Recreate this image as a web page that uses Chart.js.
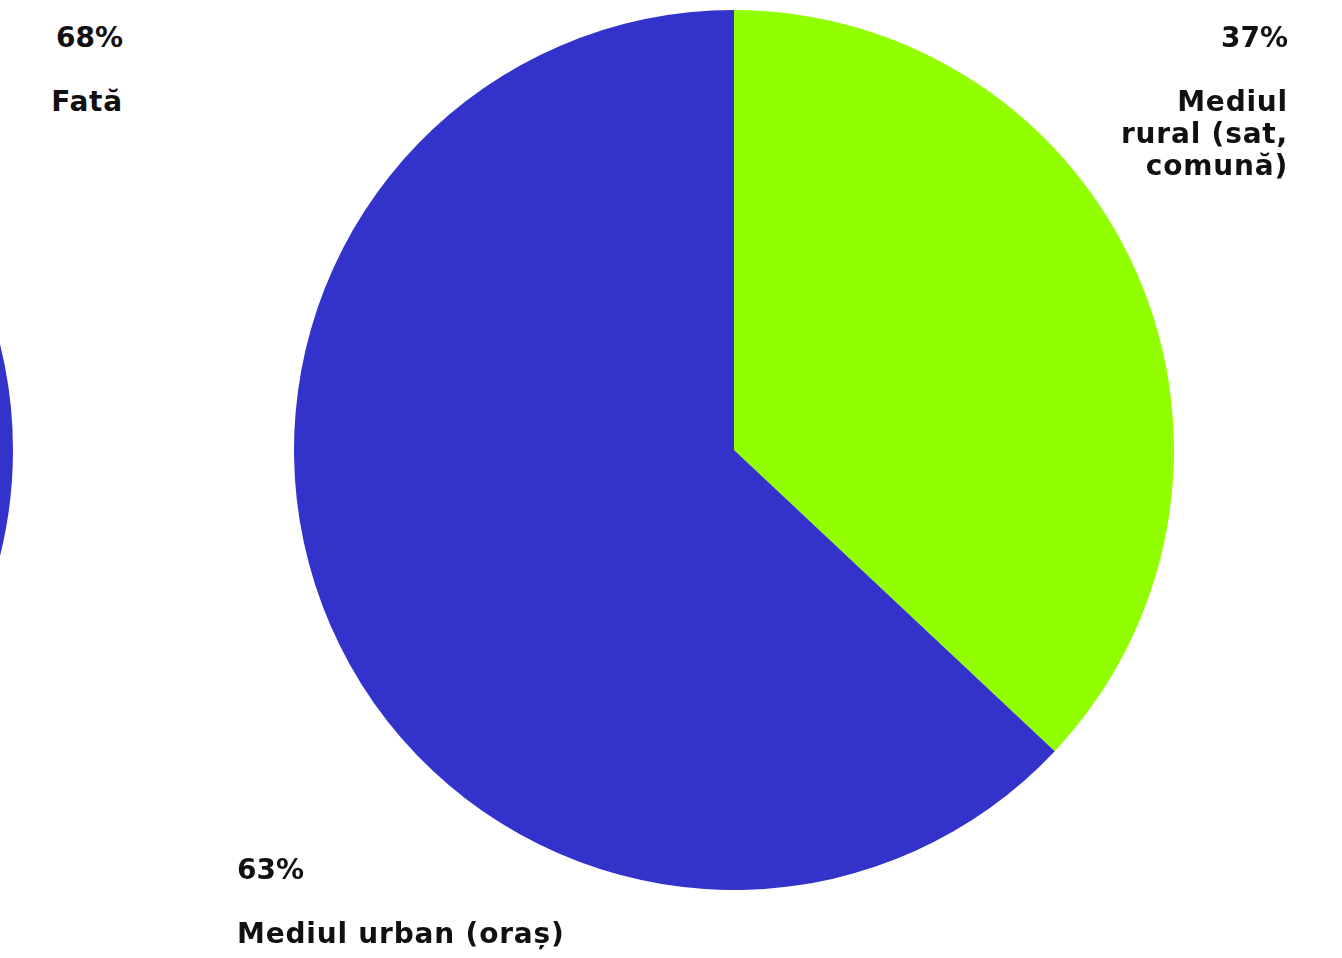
<!DOCTYPE html>
<html>
<head>
<meta charset="utf-8">
<script src="https://cdn.jsdelivr.net/npm/chart.js@4/dist/chart.umd.min.js"></script>
<style>
  html, body { margin: 0; padding: 0; background: #fff; overflow: hidden; }
  body { width: 1342px; height: 958px; position: relative; }
  .pie { position: absolute; width: 880px; height: 880px; }
  .lbl {
    position: absolute;
    font-family: "DejaVu Sans", Inter, sans-serif;
    font-weight: 700;
    font-size: 28px;
    letter-spacing: 0.8px;
    line-height: 32px;
    color: #111;
    white-space: nowrap;
  }
  .lbl .pct { display: block; margin-bottom: 32px; letter-spacing: 0; }
</style>
</head>
<body>
<div class="pie" style="left:-867px; top:10px;"><canvas id="genChart"></canvas></div>
<div class="pie" style="left:294px; top:10px;"><canvas id="mediuChart"></canvas></div>

<div class="lbl" id="lblGen0" style="right:1219px; top:22px; text-align:right;"></div>
<div class="lbl" id="lblMediu0" style="right:54px; top:22px; text-align:right;"></div>
<div class="lbl" id="lblMediu1" style="left:237px; top:854px; text-align:left;"></div>

<script>
const genLabels = ["Fată", "Băiat"];
const genValues = [68, 32];

const mediuLabels = ["Mediul rural (sat, comună)", "Mediul urban (oraș)"];
const mediuValues = [37, 63];

const blue = "#3333cc";
const green = "#91ff00";

function pieOptions() {
    return {
        responsive: true,
        maintainAspectRatio: true,
        animation: false,
        layout: { padding: 0 },
        plugins: {
            legend: { display: false },
            tooltip: { enabled: false },
        },
    };
}

new Chart(document.getElementById("genChart"), {
    type: "pie",
    data: {
        labels: genLabels,
        datasets: [{ data: genValues, backgroundColor: [blue, green], borderWidth: 0 }],
    },
    options: pieOptions(),
});

new Chart(document.getElementById("mediuChart"), {
    type: "pie",
    data: {
        labels: mediuLabels,
        datasets: [{ data: mediuValues, backgroundColor: [green, blue], borderWidth: 0 }],
    },
    options: pieOptions(),
});

function fillLabel(id, value, text, maxWidth) {
    const el = document.getElementById(id);
    const pct = document.createElement("span");
    pct.className = "pct";
    pct.textContent = value + "%";
    el.appendChild(pct);
    const name = document.createElement("span");
    name.textContent = text;
    if (maxWidth) {
        name.style.whiteSpace = "normal";
        name.style.display = "block";
        name.style.width = maxWidth + "px";
        name.style.marginLeft = "auto";
    }
    el.appendChild(name);
}

fillLabel("lblGen0", genValues[0], genLabels[0]);
fillLabel("lblMediu0", mediuValues[0], mediuLabels[0], 175);
fillLabel("lblMediu1", mediuValues[1], mediuLabels[1]);
</script>
</body>
</html>
